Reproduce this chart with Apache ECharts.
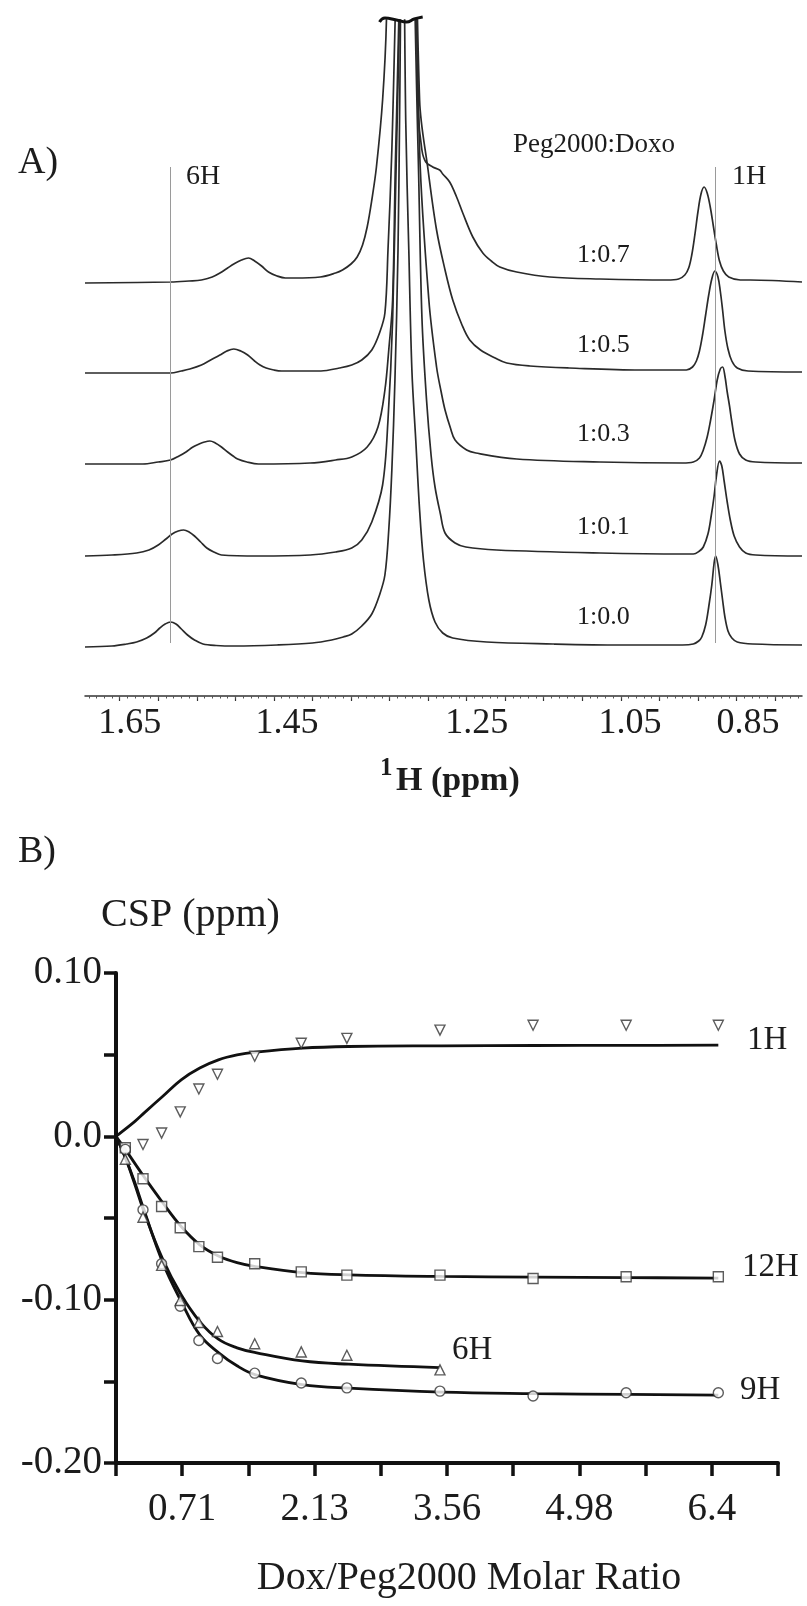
<!DOCTYPE html>
<html>
<head>
<meta charset="utf-8">
<script src="https://cdn.jsdelivr.net/npm/echarts@6/dist/echarts.min.js"></script>
<style>
  html, body { margin: 0; padding: 0; background: #fff; }
  #chart { width: 807px; height: 1606px; }
</style>
</head>
<body>
<div id="chart"></div>
<script>
// ---------- Panel A: stacked 1H spectra (x in ppm, intensity above own baseline) ----------
const RATIOS = ['1:0.0', '1:0.1', '1:0.3', '1:0.5', '1:0.7']
const OFFSETS = [49, 140, 232, 323, 415]

const SPEC_00 = [[1.695,0],[1.660,1],[1.641,3],[1.628,5],[1.615,9],[1.605,14],[1.598,19],[1.591,23],[1.584,25],[1.577,23],[1.570,18],[1.562,12],[1.553,7],[1.542,3],[1.525,1.5],[1.500,1],[1.446,2],[1.400,4],[1.375,7],[1.360,10],[1.349,13],[1.336,21],[1.323,33],[1.313,52],[1.306,72],[1.301,117],[1.297,177],[1.293,267],[1.289,397],[1.287,527],[1.283,800],[1.279,527],[1.275,397],[1.271,277],[1.266,207],[1.261,137],[1.256,87],[1.249,47],[1.241,25],[1.231,14],[1.218,9],[1.174,5],[1.088,3],[1.001,2],[0.920,2],[0.906,3],[0.899,6],[0.895,10],[0.890,22],[0.886,40],[0.882,62],[0.879,84],[0.877,91],[0.874,82],[0.871,65],[0.868,47],[0.865,30],[0.861,16],[0.856,9],[0.849,5],[0.829,3],[0.765,2]]
const SPEC_01 = [[1.695,0],[1.660,1],[1.628,3],[1.612,6],[1.600,11],[1.590,17],[1.582,22],[1.574,25],[1.567,26],[1.560,24],[1.553,20],[1.545,14],[1.537,8],[1.528,4],[1.518,1],[1.470,0],[1.403,1],[1.370,4],[1.349,8],[1.336,16],[1.323,34],[1.309,71],[1.302,136],[1.296,236],[1.291,406],[1.277,800],[1.263,406],[1.258,239],[1.252,156],[1.246,100],[1.241,69],[1.234,42],[1.228,23],[1.215,13],[1.201,9],[1.161,6],[1.027,3],[0.920,2],[0.906,2],[0.898,5],[0.893,9],[0.887,22],[0.883,39],[0.879,60],[0.876,80],[0.872,95],[0.869,90],[0.866,75],[0.862,54],[0.858,36],[0.853,20],[0.846,9],[0.838,3],[0.825,1],[0.765,0]]
const SPEC_03 = [[1.695,0],[1.620,0],[1.600,2],[1.584,4],[1.573,8],[1.564,12],[1.555,17],[1.547,20],[1.540,22],[1.533,23],[1.526,21],[1.518,17],[1.510,12],[1.503,8],[1.497,5],[1.485,2],[1.470,0],[1.403,1],[1.370,4],[1.349,7],[1.329,17],[1.315,37],[1.306,74],[1.301,114],[1.296,164],[1.292,314],[1.274,800],[1.261,314],[1.249,164],[1.239,97],[1.233,72],[1.228,54],[1.221,36],[1.215,24],[1.200,14],[1.188,11],[1.135,5],[1.027,2],[0.920,1],[0.906,2],[0.898,6],[0.893,14],[0.888,27],[0.884,42],[0.879,64],[0.875,84],[0.871,95],[0.868,97],[0.865,88],[0.862,72],[0.859,58],[0.856,42],[0.852,24],[0.846,10],[0.838,4],[0.825,2],[0.765,1]]
const SPEC_05 = [[1.695,0],[1.584,0],[1.570,2],[1.559,4],[1.544,8],[1.532,13],[1.520,18],[1.511,22],[1.502,24],[1.493,22],[1.484,18],[1.475,12],[1.468,8],[1.460,5],[1.450,3],[1.440,2],[1.389,2],[1.365,5],[1.349,8],[1.336,13],[1.323,23],[1.313,40],[1.306,60],[1.302,123],[1.297,223],[1.276,800],[1.261,273],[1.250,203],[1.239,143],[1.228,103],[1.218,73],[1.206,48],[1.196,33],[1.182,23],[1.163,15],[1.148,10],[1.118,7],[1.067,5],[0.975,3],[0.915,3],[0.907,6],[0.902,12],[0.898,22],[0.894,38],[0.890,58],[0.886,78],[0.882,94],[0.878,102],[0.874,96],[0.871,82],[0.868,63],[0.865,42],[0.861,24],[0.856,12],[0.849,5],[0.835,2],[0.765,1]]
const SPEC_07 = [[1.695,-2],[1.584,-1],[1.560,0],[1.544,1],[1.530,4],[1.520,8],[1.510,13],[1.502,17],[1.492,21],[1.483,23],[1.475,20],[1.466,15],[1.457,9],[1.446,5],[1.435,3],[1.423,3],[1.390,4],[1.370,8],[1.361,11],[1.350,17],[1.342,24],[1.335,36],[1.329,54],[1.323,81],[1.317,114],[1.309,181],[1.304,261],[1.290,800],[1.265,261],[1.263,171],[1.258,131],[1.253,119],[1.244,114],[1.235,111],[1.231,107],[1.222,99],[1.213,84],[1.205,68],[1.192,44],[1.179,28],[1.168,20],[1.157,14],[1.135,9],[1.092,4],[1.027,2],[0.940,1],[0.925,2],[0.917,6],[0.912,13],[0.908,26],[0.904,46],[0.900,69],[0.896,87],[0.892,94],[0.888,88],[0.884,74],[0.880,55],[0.876,36],[0.872,20],[0.867,10],[0.860,4],[0.845,1],[0.832,1],[0.765,-1]]
const SPECTRA = [SPEC_00, SPEC_01, SPEC_03, SPEC_05, SPEC_07]

const REF_PPM = [1.584, 0.878]          // 6H and 1H guide lines
const REF_SPAN = [53, 529]
const BREAK_MARK = [[1.313,674],[1.306,678],[1.291,676],[1.278,674],[1.268,677],[1.257,679]]

const PPM_MAJOR = Array.from({ length: 18 }, (_, i) => +(1.65 - 0.05 * i).toFixed(3))
const PPM_MINOR = Array.from({ length: 93 }, (_, i) => +(1.69 - 0.01 * i).toFixed(3))
const PPM_LABEL_AT = [1.637, 1.433, 1.187, 0.988, 0.835]
const PPM_LABELS = ['1.65', '1.45', '1.25', '1.05', '0.85']

// ---------- Panel B: chemical shift perturbation ----------
const X_1H = [0.29, 0.49, 0.69, 0.89, 1.09, 1.49, 1.99, 2.48, 3.48, 4.48, 5.48, 6.47]
const CSP_1H = [-0.005, 0.002, 0.015, 0.029, 0.038, 0.049, 0.057, 0.060, 0.065, 0.068, 0.068, 0.068]
const X_ALL = [0.1, 0.29, 0.49, 0.69, 0.89, 1.09, 1.49, 1.99, 2.48, 3.48, 4.48, 5.48, 6.47]
const CSP_12H = [-0.007, -0.026, -0.043, -0.056, -0.0675, -0.074, -0.078, -0.083, -0.085, -0.085, -0.087, -0.086, -0.086]
const CSP_9H = [-0.008, -0.045, -0.078, -0.104, -0.125, -0.136, -0.145, -0.151, -0.154, -0.156, -0.159, -0.157, -0.157]
const X_6H = [0.1, 0.29, 0.49, 0.69, 0.89, 1.09, 1.49, 1.99, 2.48, 3.48]
const CSP_6H = [-0.014, -0.0495, -0.079, -0.1005, -0.114, -0.1195, -0.127, -0.132, -0.134, -0.143]

const FIT_X_1H = [0, 0.2, 0.3, 0.5, 0.7, 0.9, 1.1, 1.3, 1.5, 2.0, 2.5, 3.5, 4.5, 5.5, 6.47]
const FIT_1H = [0, 0.009, 0.0142, 0.0244, 0.0346, 0.0418, 0.0468, 0.0498, 0.0515, 0.054, 0.055, 0.0554, 0.0556, 0.0557, 0.0558]
const FIT_X_12H = [0, 0.1, 0.3, 0.5, 0.7, 0.9, 1.1, 1.3, 1.5, 2.0, 2.5, 3.5, 4.5, 5.5, 6.47]
const FIT_12H = [0, -0.008, -0.0247, -0.0405, -0.0552, -0.0664, -0.0732, -0.0773, -0.0797, -0.0834, -0.0848, -0.0858, -0.0862, -0.0865, -0.0868]
const FIT_X_9H = [0, 0.1, 0.2, 0.3, 0.5, 0.7, 0.9, 1.1, 1.3, 1.5, 2.0, 2.5, 3.5, 4.5, 5.5, 6.47]
const FIT_9H = [0, -0.013, -0.028, -0.045, -0.077, -0.101, -0.1216, -0.1324, -0.1405, -0.146, -0.152, -0.1542, -0.1566, -0.1575, -0.158, -0.1585]
const FIT_X_6H = [0, 0.1, 0.2, 0.3, 0.5, 0.7, 0.9, 1.1, 1.3, 1.5, 2.0, 2.5, 3.48]
const FIT_6H = [0, -0.013, -0.029, -0.046, -0.075, -0.097, -0.1134, -0.1242, -0.1295, -0.1324, -0.1375, -0.1395, -0.1416]

const X_TICK_LABELS = ['', '0.71', '', '2.13', '', '3.56', '', '4.98', '', '6.4', '']
const Y_TICK_LABELS = { '10': '0.10', '0': '0.0', '-10': '-0.10', '-20': '-0.20' }

const SERIF = '"Liberation Serif", "Times New Roman", serif'
const INK = '#1c1c1c'

const zip = (xs, ys) => xs.map((x, i) => [x, ys[i]])

const chart = echarts.init(document.getElementById('chart'), null, { renderer: 'canvas' })

const text = (x, y, str, size, extra) => ({
  type: 'text', x, y, silent: true,
  style: Object.assign({ text: str, fontSize: size, fontFamily: SERIF, fill: INK, verticalAlign: 'middle' }, extra || {}),
})

const hollow = (symbol, rotate) => ({
  type: 'scatter', xAxisIndex: 2, yAxisIndex: 1, symbol, symbolSize: 10, symbolRotate: rotate || 0,
  itemStyle: { color: '#fff', borderColor: '#333', borderWidth: 1.4 }, z: 5,
})

const fitLine = (data) => ({
  type: 'line', xAxisIndex: 2, yAxisIndex: 1, data, showSymbol: false, smooth: 0.4,
  lineStyle: { color: '#111', width: 2.8 }, z: 3,
})

const option = {
  animation: false,
  backgroundColor: '#fff',
  grid: [
    { left: 85, right: 5, top: 20, bottom: 910 },
    { left: 116, right: 29, top: 973, bottom: 143 },
  ],
  xAxis: [
    {
      gridIndex: 0, type: 'value', min: 0.765, max: 1.695, inverse: true,
      axisLine: { onZero: false, lineStyle: { color: '#333', width: 1.5 } },
      axisTick: { customValues: PPM_MAJOR, length: 5, lineStyle: { color: '#333', width: 1.2 } },
      axisLabel: {
        customValues: PPM_LABEL_AT, fontSize: 36, fontFamily: SERIF, color: INK, margin: 10,
        formatter: v => PPM_LABELS[PPM_LABEL_AT.findIndex(p => Math.abs(p - v) < 1e-6)] || '',
      },
      splitLine: { show: false },
    },
    {
      gridIndex: 0, type: 'value', min: 0.765, max: 1.695, inverse: true, position: 'bottom',
      axisLine: { show: false, onZero: false },
      axisTick: { customValues: PPM_MINOR, length: 2.5, lineStyle: { color: '#555', width: 1 } },
      axisLabel: { show: false },
      splitLine: { show: false },
    },
    {
      gridIndex: 1, type: 'value', min: 0, max: 6.4 / 0.9, interval: 6.4 / 9,
      axisLine: { onZero: false, lineStyle: { color: '#111', width: 4 } },
      axisTick: { length: 13, lineStyle: { color: '#111', width: 3.5 } },
      axisLabel: { fontSize: 39, fontFamily: SERIF, color: INK, margin: 27, formatter: (v, i) => X_TICK_LABELS[i] || '' },
      splitLine: { show: false },
    },
  ],
  yAxis: [
    { gridIndex: 0, type: 'value', min: 0, max: 676, show: false },
    {
      gridIndex: 1, type: 'value', min: -0.2, max: 0.1, interval: 0.05,
      axisLine: { show: true, lineStyle: { color: '#111', width: 4 } },
      axisTick: { show: true, length: 12, lineStyle: { color: '#111', width: 3.5 } },
      axisLabel: { fontSize: 39, fontFamily: SERIF, color: INK, margin: 14, formatter: v => Y_TICK_LABELS[String(Math.round(v * 100))] || '' },
      splitLine: { show: false },
    },
  ],
  series: [
    ...SPECTRA.map((spec, i) => ({
      name: RATIOS[i], type: 'line', xAxisIndex: 0, yAxisIndex: 0,
      data: spec.map(([p, v]) => [p, v + OFFSETS[i]]),
      showSymbol: false, smooth: 0.35,
      lineStyle: { color: '#2a2a2a', width: 1.7 },
      markLine: i === 0 ? {
        silent: true, symbol: ['none', 'none'], label: { show: false },
        lineStyle: { color: '#9a9a9a', width: 1, type: 'solid' },
        data: REF_PPM.map(p => [{ coord: [p, REF_SPAN[0]] }, { coord: [p, REF_SPAN[1]] }]),
      } : undefined,
    })),
    {
      type: 'line', xAxisIndex: 0, yAxisIndex: 0, data: BREAK_MARK, showSymbol: false, smooth: 0.5,
      clip: false, lineStyle: { color: '#111', width: 3 }, z: 6,
    },
    fitLine(zip(FIT_X_1H, FIT_1H)),
    fitLine(zip(FIT_X_12H, FIT_12H)),
    fitLine(zip(FIT_X_9H, FIT_9H)),
    fitLine(zip(FIT_X_6H, FIT_6H)),
    Object.assign(hollow('triangle', 180), { name: '1H', data: zip(X_1H, CSP_1H) }),
    Object.assign(hollow('rect'), { name: '12H', data: zip(X_ALL, CSP_12H) }),
    Object.assign(hollow('circle'), { name: '9H', data: zip(X_ALL, CSP_9H) }),
    Object.assign(hollow('triangle'), { name: '6H', data: zip(X_6H, CSP_6H) }),
  ],
  graphic: [
    text(18, 163, 'A)', 38),
    text(186, 177, '6H', 28),
    text(732, 177, '1H', 28),
    text(513, 145, 'Peg2000:Doxo', 27),
    text(577, 255, RATIOS[4], 26),
    text(577, 345, RATIOS[3], 26),
    text(577, 434, RATIOS[2], 26),
    text(577, 527, RATIOS[1], 26),
    text(577, 617, RATIOS[0], 26),
    text(380, 769, '1', 25, { fontWeight: 'bold' }),
    text(396, 781, 'H (ppm)', 34, { fontWeight: 'bold' }),
    text(18, 852, 'B)', 38),
    text(101, 915, 'CSP (ppm)', 40),
    text(747, 1040, '1H', 33),
    text(742, 1267, '12H', 33),
    text(452, 1350, '6H', 33),
    text(740, 1390, '9H', 33),
    text(469, 1578, 'Dox/Peg2000 Molar Ratio', 40, { align: 'center' }),
  ],
}

chart.setOption(option)
window.addEventListener('resize', () => chart.resize())
</script>
</body>
</html>
